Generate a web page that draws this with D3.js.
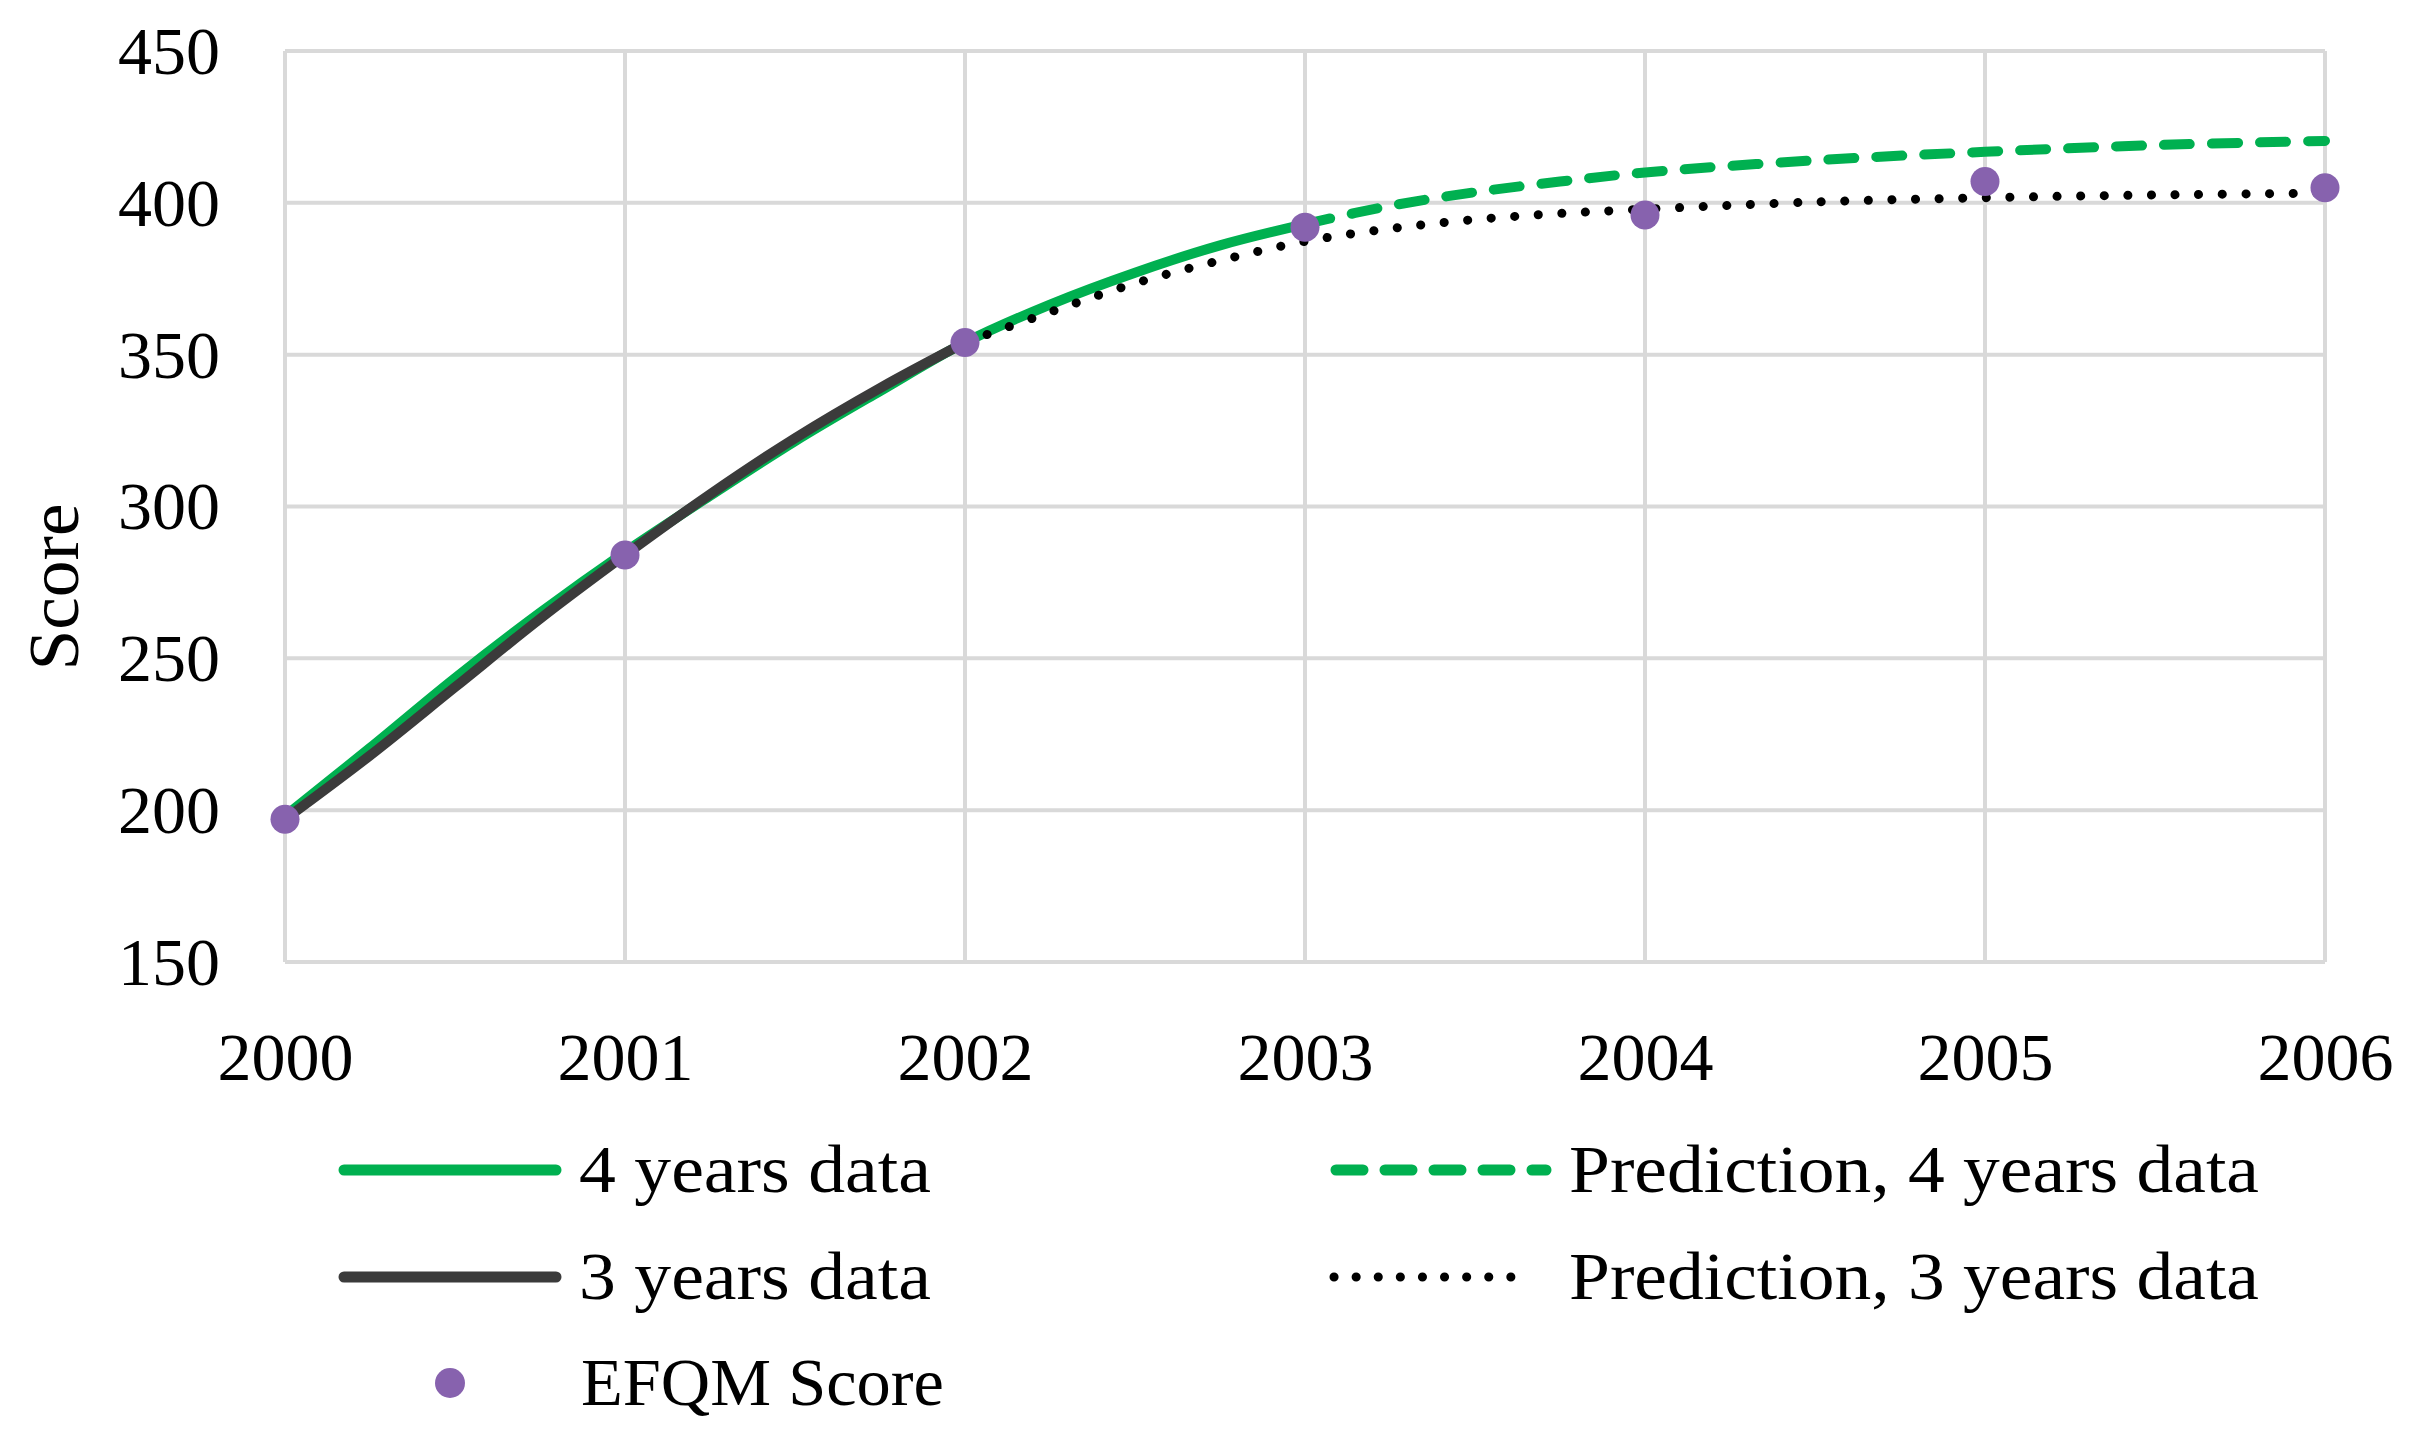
<!DOCTYPE html>
<html>
<head>
<meta charset="utf-8">
<script src="https://cdn.jsdelivr.net/npm/d3@7"></script>
<style>
  html, body { margin: 0; padding: 0; background: #ffffff; }
  svg { display: block; }
</style>
</head>
<body>
<svg id="chart" width="2410" height="1447"></svg>
<script>
// ---------- DATA ----------
const years = [2000, 2001, 2002, 2003, 2004, 2005, 2006];
const yTicks = [150, 200, 250, 300, 350, 400, 450];
const yTitle = "Score";

const efqmScore = [197, 284, 354, 392, 396, 407, 405];

const fourYearsX = [2000, 2000.25, 2000.5, 2000.75, 2001, 2001.25, 2001.5, 2001.75, 2002, 2002.25, 2002.5, 2002.75, 2003];
const fourYearsY = [198, 220.5, 243.5, 265, 285, 303.5, 321.5, 338, 354, 366.5, 377, 386, 393];

const threeYearsX = [2000, 2000.25, 2000.5, 2000.75, 2001, 2001.25, 2001.5, 2001.75, 2002];
const threeYearsY = [197, 218, 240.5, 263, 284, 304, 322.5, 339, 354];

const pred4X = [2003, 2003.25, 2003.5, 2003.75, 2004, 2004.5, 2005, 2005.5, 2006];
const pred4Y = [393, 399, 403.5, 407, 410, 414, 416.8, 419, 420.4];

const pred3X = [2002, 2002.25, 2002.5, 2002.75, 2003, 2003.25, 2003.5, 2003.75, 2004, 2004.5, 2005, 2005.5, 2006];
const pred3Y = [354, 364, 373.5, 381, 387.3, 391.5, 394.5, 396.5, 397.9, 400.3, 401.7, 402.6, 403.2];

const legendLabels = ["4 years data", "3 years data", "EFQM Score", "Prediction, 4 years data", "Prediction, 3 years data"];

// ---------- STYLE ----------
const GREEN = "#00B050", DARK = "#3B3B3B", PURPLE = "#8762AE", GRID = "#D9D9D9";
const FONT = "'Liberation Serif', 'Times New Roman', serif";

const svg = d3.select("#chart");
const x = d3.scaleLinear().domain([2000, 2006]).range([285, 2325]);
const y = d3.scaleLinear().domain([150, 450]).range([962, 51]);

// grid
const g = svg.append("g");
g.selectAll("line.h").data(yTicks).join("line")
  .attr("x1", x(2000)).attr("x2", x(2006))
  .attr("y1", d => y(d)).attr("y2", d => y(d))
  .attr("stroke", GRID).attr("stroke-width", 4);
g.selectAll("line.v").data(years).join("line")
  .attr("y1", y(150)).attr("y2", y(450))
  .attr("x1", d => x(d)).attr("x2", d => x(d))
  .attr("stroke", GRID).attr("stroke-width", 4);

// axes (text only, using d3 axes)
const yAxis = svg.append("g").attr("transform", `translate(${x(2000) - 65},0)`)
  .call(d3.axisLeft(y).tickValues(yTicks).tickSize(0).tickPadding(0).tickFormat(d3.format("d")));
yAxis.select(".domain").remove();
yAxis.selectAll("text").attr("font-family", FONT).attr("font-size", 68).attr("fill", "#000")
  .attr("dy", "0.33em");

const xAxis = svg.append("g").attr("transform", `translate(0,${y(150)})`)
  .call(d3.axisBottom(x).tickValues(years).tickSize(0).tickPadding(0).tickFormat(d3.format("d")));
xAxis.select(".domain").remove();
xAxis.selectAll("text").attr("font-family", FONT).attr("font-size", 68).attr("fill", "#000")
  .attr("dy", null).attr("y", 118);

svg.append("text")
  .attr("transform", `translate(78,587) rotate(-90)`)
  .attr("text-anchor", "middle")
  .attr("font-family", FONT).attr("font-size", 72)
  .attr("textLength", 167).attr("lengthAdjust", "spacingAndGlyphs")
  .text(yTitle);

// lines
const line = d3.line().x(d => x(d[0])).y(d => y(d[1])).curve(d3.curveCatmullRom.alpha(0.5));
const zip = (a, b) => a.map((v, i) => [v, b[i]]);

svg.append("path").datum(zip(fourYearsX, fourYearsY)).attr("d", line)
  .attr("fill", "none").attr("stroke", GREEN).attr("stroke-width", 10).attr("stroke-linecap", "round");
svg.append("path").datum(zip(pred4X, pred4Y)).attr("d", line)
  .attr("fill", "none").attr("stroke", GREEN).attr("stroke-width", 10)
  .attr("stroke-dasharray", "26,22").attr("stroke-linecap", "round");
svg.append("path").datum(zip(threeYearsX, threeYearsY)).attr("d", line)
  .attr("fill", "none").attr("stroke", DARK).attr("stroke-width", 10).attr("stroke-linecap", "round");
svg.append("path").datum(zip(pred3X, pred3Y)).attr("d", line)
  .attr("fill", "none").attr("stroke", "#000").attr("stroke-width", 9)
  .attr("stroke-dasharray", "0.1,23.5").attr("stroke-linecap", "round");

svg.selectAll("circle.efqm").data(zip(years, efqmScore)).join("circle")
  .attr("cx", d => x(d[0])).attr("cy", d => y(d[1])).attr("r", 14.5).attr("fill", PURPLE);

// legend
const leg = svg.append("g");
const rowY = [1170, 1277, 1383];
const legText = (tx, ty, s, w) => leg.append("text").attr("x", tx).attr("y", ty + 22)
  .attr("font-family", FONT).attr("font-size", 68).attr("textLength", w).attr("lengthAdjust", "spacingAndGlyphs").text(s);

leg.append("line").attr("x1", 344).attr("x2", 556).attr("y1", rowY[0]).attr("y2", rowY[0])
  .attr("stroke", GREEN).attr("stroke-width", 11).attr("stroke-linecap", "round");
legText(579, rowY[0], legendLabels[0], 352);
leg.append("line").attr("x1", 344).attr("x2", 556).attr("y1", rowY[1]).attr("y2", rowY[1])
  .attr("stroke", DARK).attr("stroke-width", 11).attr("stroke-linecap", "round");
legText(579, rowY[1], legendLabels[1], 352);
leg.append("circle").attr("cx", 450).attr("cy", rowY[2]).attr("r", 15).attr("fill", PURPLE);
legText(581, rowY[2], legendLabels[2], 363);

leg.append("line").attr("x1", 1336).attr("x2", 1546).attr("y1", rowY[0]).attr("y2", rowY[0])
  .attr("stroke", GREEN).attr("stroke-width", 11).attr("stroke-linecap", "round")
  .attr("stroke-dasharray", "27,22");
legText(1569, rowY[0], legendLabels[3], 690);
leg.append("line").attr("x1", 1334).attr("x2", 1532).attr("y1", rowY[1]).attr("y2", rowY[1])
  .attr("stroke", "#000").attr("stroke-width", 9).attr("stroke-linecap", "round")
  .attr("stroke-dasharray", "0.1,22");
legText(1569, rowY[1], legendLabels[4], 690);
</script>
</body>
</html>
